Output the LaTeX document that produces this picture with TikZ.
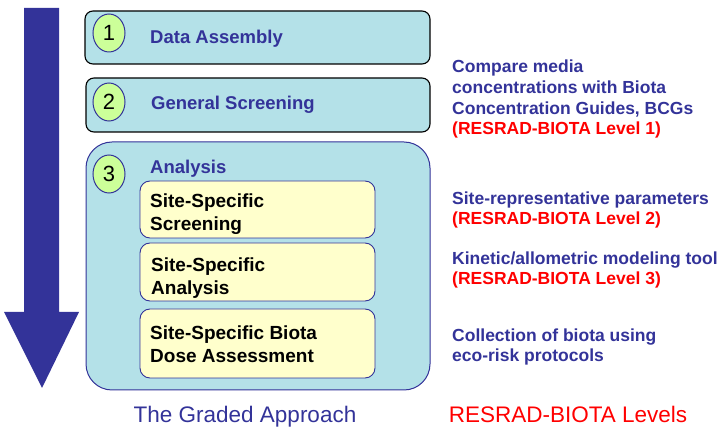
\documentclass[tikz,border=0pt]{standalone}
\usepackage{fontspec}
\setmainfont{Liberation Sans}
\usetikzlibrary{shapes.geometric}
\definecolor{dblue}{HTML}{333399}
\definecolor{cyanfill}{HTML}{B4E1E8}
\definecolor{greenfill}{HTML}{CCFF99}
\definecolor{yellowfill}{HTML}{FFFFCC}
\definecolor{redtext}{HTML}{FF0000}
\tikzset{
  stagebox/.style={draw=black, line width=1.1pt, fill=cyanfill, rounded corners=8pt},
  bigbox/.style={draw=dblue, line width=1pt, fill=cyanfill, rounded corners=26pt},
  subbox/.style={draw=dblue, line width=0.9pt, fill=yellowfill, rounded corners=10pt},
  numcirc/.style={draw=dblue, line width=1pt, fill=greenfill, ellipse, minimum width=32pt, minimum height=38pt, inner sep=0pt, font=\fontsize{22}{22}\selectfont},
  stagetxt/.style={anchor=base west, inner sep=0pt, text=dblue, font=\fontsize{18.5}{22}\selectfont\bfseries},
  subtxt/.style={anchor=base west, inner sep=0pt, align=left, text=black, font=\fontsize{19}{23}\selectfont\bfseries},
  sidetxt/.style={anchor=base west, inner sep=0pt, align=left, text=dblue, font=\fontsize{17.5}{20.7}\selectfont\bfseries},
  captxt/.style={anchor=base, inner sep=0pt, font=\fontsize{22.5}{25}\selectfont},
}
\begin{document}
\begin{tikzpicture}[x=1pt,y=-1pt]
\useasboundingbox (0,0) rectangle (721,430);
% arrow
\fill[dblue] (24,8) -- (59,8) -- (59,312) -- (79,312) -- (42,388) -- (4,312) -- (24,312) -- cycle;
% boxes
\draw[stagebox] (85,11) rectangle (430,64);
\node[numcirc] (c1) at (109,33) {1};
\node[stagetxt] (t1) at (150,44) {Data Assembly};
\draw[stagebox] (86,78) rectangle (430,132);
\node[numcirc] (c2) at (109,102) {2};
\node[stagetxt] (t2) at (151,110) {General Screening};
\draw[bigbox] (86,142) rectangle (430,390);
\node[numcirc] (c3) at (109,174) {3};
\node[stagetxt] (t3) at (150,174) {Analysis};
\draw[subbox] (140,181) rectangle (375,238);
\node[subtxt] (s1) at (150,231) {Site-Specific\\Screening};
\draw[subbox] (140,243) rectangle (375,301);
\node[subtxt] (s2) at (151,295) {Site-Specific\\Analysis};
\draw[subbox] (140,309) rectangle (375,378);
\node[subtxt] (s3) at (150,363) {Site-Specific Biota\\Dose Assessment};
% right side
\node[sidetxt] (r1) at (452,135) {Compare media\\concentrations with Biota\\Concentration Guides, BCGs\\\textcolor{redtext}{(RESRAD-BIOTA Level 1)}};
\node[sidetxt] (r2) at (452,225) {Site-representative parameters\\\textcolor{redtext}{(RESRAD-BIOTA Level 2)}};
\node[sidetxt] (r3) at (452,285) {Kinetic/allometric modeling tool\\\textcolor{redtext}{(RESRAD-BIOTA Level 3)}};
\node[sidetxt] (r4) at (452,362) {Collection of biota using\\eco-risk protocols};
% captions
\node[captxt, text=dblue] (cap1) at (245,423) {The Graded Approach};
\node[captxt, text=redtext] (cap2) at (568,423) {RESRAD-BIOTA Levels};
\end{tikzpicture}
\end{document}
